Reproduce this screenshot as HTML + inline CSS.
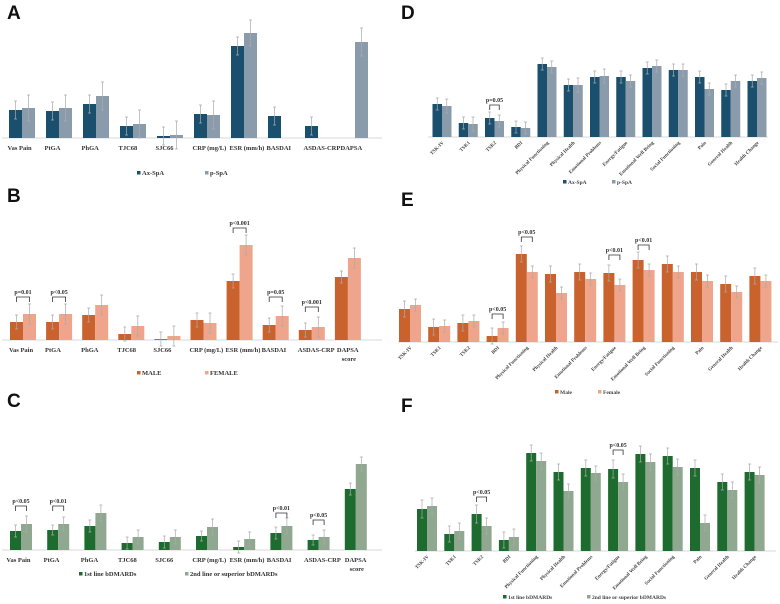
<!DOCTYPE html>
<html><head><meta charset="utf-8"><style>
body{margin:0;background:#fff;width:780px;height:604px;overflow:hidden}
svg{display:block}
.lt{font-family:"Liberation Sans",sans-serif;font-weight:bold;font-size:19px;fill:#111}
.lab{font-family:"Liberation Serif",serif;font-weight:bold;font-size:6.5px;fill:#333}
.rl{font-family:"Liberation Serif",serif;font-weight:bold;font-size:5px;fill:#444}
.pv{font-family:"Liberation Serif",serif;font-weight:bold;font-size:6px;fill:#333}
</style></head><body>
<svg id="c" width="780" height="604">
<text class="lt" x="7" y="19">A</text>
<text class="lt" x="7" y="202">B</text>
<text class="lt" x="7" y="407">C</text>
<text class="lt" x="401" y="19">D</text>
<text class="lt" x="401" y="206">E</text>
<text class="lt" x="401" y="412">F</text>
</svg>
<script>
const catsLeft=["Vas Pain","PtGA","PhGA","TJC68","SJC66","CRP (mg/L)","ESR (mm/h)","BASDAI","ASDAS-CRP","DAPSA"];
const catsLeftB=["Vas Pain","PtGA","PhGA","TJC68","SJC66","CRP (mg/L)","ESR (mm/h)","BASDAI","ASDAS-CRP","DAPSA|score"];
const catsRight=["TSK-IV","TSK1","TSK2","BDI","Physical Functioning","Physical Health","Emotional Problems","Energy/Fatigue","Emotional Well Being","Social Functioning","Pain","General Health","Health Change"];

const aS1=[28,27,34,12,2,24,92,22,12,0];
const aS2=[30,30,42,14,3,23,105,0,0,96];
const aE1=[9,9,9,9,9,9,9,9,9,0];
const aE2=[13,13,14,14,14,14,13,0,0,14];

const bS1=[18,18,25,6,1,20,59,15,10,63];
const bS2=[26,26,35,14,4,17,95,24,13,82];
const bE1=[7,7,7,7,7,7,7,7,7,6];
const bE2=[10,10,10,10,10,10,10,10,10,10];

const cS1=[19,20,24,7,8,14,3,17,10,61];
const cS2=[26,26,37,13,13,23,11,24,13,86];
const cE1=[6,5,6,6,6,5,6,6,5,6];
const cE2=[8,7,8,7,7,8,7,8,7,7];

const dS1=[33,14,19,10,73,52,60,60,69,67,60,47,56];
const dS2=[31,13,16,9,70,52,61,56,71,67,48,56,59];
const dE1=[6,6,6,6,6,6,6,6,6,6,6,6,6];
const dE2=[7,7,6,6,6,7,7,6,6,6,6,6,6];

const eS1=[33,15,19,6,88,68,70,69,82,78,70,58,66];
const eS2=[37,16,21,14,70,49,63,57,72,70,61,50,61];
const eE1=[8,8,8,8,8,8,8,8,8,8,8,8,8];
const eE2=[6,6,6,6,6,6,6,6,6,6,6,6,6];

const fS1=[42,17,37,11,98,79,83,82,97,95,83,69,79];
const fS2=[45,20,25,14,90,60,78,69,89,84,28,61,76];
const fE1=[9,8,9,8,8,8,8,9,8,8,8,8,8];
const fE2=[8,8,8,8,8,7,7,8,8,8,8,8,8];

const panels=[
 {id:"a",cats:catsLeft,s1:aS1,s2:aS2,e1:aE1,e2:aE2,x0:2,x1:382,c0:22,step:37,bw:13,base:138,c1:"#1b4f6e",c2:"#8a9cac",rot:false,
  leg:[["Ax-SpA",137,175],["p-SpA",205,175]],sig:[]},
 {id:"b",cats:catsLeftB,s1:bS1,s2:bS2,e1:bE1,e2:bE2,x0:2,x1:382,c0:23,step:36.1,bw:13,base:340,c1:"#c9622c",c2:"#eea58b",rot:false,
  leg:[["MALE",137,375],["FEMALE",205,375]],sig:[[0,"p=0.01",297],[1,"p<0.05",297],[6,"p<0.001",228],[7,"p=0.05",297],[8,"p<0.001",307]]},
 {id:"c",cats:catsLeftB,s1:cS1,s2:cS2,e1:cE1,e2:cE2,x0:2,x1:382,c0:21,step:37.2,bw:11,base:550,c1:"#1d6b2f",c2:"#8fa88f",rot:false,
  leg:[["1st line bDMARDs",79,576],["2nd line or superior  bDMARDs",185,576]],sig:[[0,"p<0.05",506],[1,"p<0.01",506],[7,"p<0.01",513],[8,"p<0.05",520]]},
 {id:"d",cats:catsRight,s1:dS1,s2:dS2,e1:dE1,e2:dE2,x0:428,x1:768,c0:442,step:26.25,bw:9.5,base:137,c1:"#1b4f6e",c2:"#8a9cac",rot:true,
  leg:[["Ax-SpA",563,184],["p-SpA",612,184]],sig:[[2,"p=0.05",105]]},
 {id:"e",cats:catsRight,s1:eS1,s2:eS2,e1:eE1,e2:eE2,x0:398,x1:778,c0:410,step:29.2,bw:11,base:342,c1:"#c9622c",c2:"#eea58b",rot:true,
  leg:[["Male",555,394],["Female",598,394]],sig:[[3,"p<0.05",314],[4,"p<0.05",237],[7,"p<0.01",255],[8,"p<0.01",245]]},
 {id:"f",cats:catsRight,s1:fS1,s2:fS2,e1:fE1,e2:fE2,x0:415,x1:776,c0:427,step:27.3,bw:10,base:551,c1:"#1d6b2f",c2:"#8fa88f",rot:true,
  leg:[["1st line bDMARDs",503,599],["2nd line or superior  bDMARDs",587,599]],sig:[[2,"p<0.05",497],[7,"p<0.05",450]]}
];
const svg=document.getElementById('c');
const NS="http://www.w3.org/2000/svg";
function mk(t,a,p){const e=document.createElementNS(NS,t);for(const k in a)e.setAttribute(k,a[k]);(p||svg).appendChild(e);return e;}
panels.forEach(P=>{
 const g=mk('g',{});
 
 
 const xc=i=>P.c0+i*P.step;
 const y=v=>P.base-v;
 const ax=mk('line',{x1:P.x0,x2:P.x1,y1:P.base,y2:P.base,stroke:"#d8d8d8","stroke-width":1},g);
 
 
 P.cats.forEach((c,i)=>{
  [[P.s1,P.e1,P.c1,-1],[P.s2,P.e2,P.c2,0]].forEach(([s,e,col,off],k)=>{
   const v=s[i]; if(!v) return;
   const bx=xc(i)+off*P.bw;
   const r=mk('rect',{x:bx,y:y(v),width:P.bw,height:v,fill:col},g);
   
   
   const er=e[i]; const cx=bx+P.bw/2;
   const l=mk('path',{d:`M${cx},${y(v+er)}V${y(v-er)}M${cx-1.5},${y(v+er)}h3M${cx-1.5},${y(v-er)}h3`,stroke:"#aaa","stroke-width":0.7,fill:"none"},g);
   
   
  });
  if(P.rot){
   const t=mk('text',{class:"rl","text-anchor":"end",transform:`translate(${xc(i)+2},${P.base+6}) rotate(-45)`},g);
   t.textContent=c;
   
   
  }else{
   c.split('|').forEach((ln,j)=>{
    const t=mk('text',{class:"lab","text-anchor":j?"middle":"start",x:j?xc(i)+1:xc(i)-P.step/2+4,y:P.base+12+j*9},g);
    if(j===0&&c.includes('|'))t.setAttribute('x',xc(i)-11);
    t.textContent=ln;
    
    
   });
  }
 });
 P.sig.forEach(([i,txt,yy])=>{
  const a=xc(i)-P.bw/2,b=xc(i)+P.bw/2;
  const p=mk('path',{d:`M${a},${yy+5}V${yy}H${b}V${yy+5}`,stroke:"#333","stroke-width":0.8,fill:"none"},g);
  
  
  const t=mk('text',{class:"pv","text-anchor":"middle",x:xc(i),y:yy-3},g);
  t.textContent=txt;
  
  
 });
 P.leg.forEach(([txt,lx,ly],k)=>{
  const r=mk('rect',{x:lx,y:ly-4,width:3.5,height:3.5,fill:k?P.c2:P.c1},g);
  
  
  const t=mk('text',{class:P.rot?"rl":"lab",x:lx+5,y:ly,style:P.rot?"font-size:5.5px":""},g);
  t.textContent=txt;
  
  
 });
});
</script>
</body></html>
